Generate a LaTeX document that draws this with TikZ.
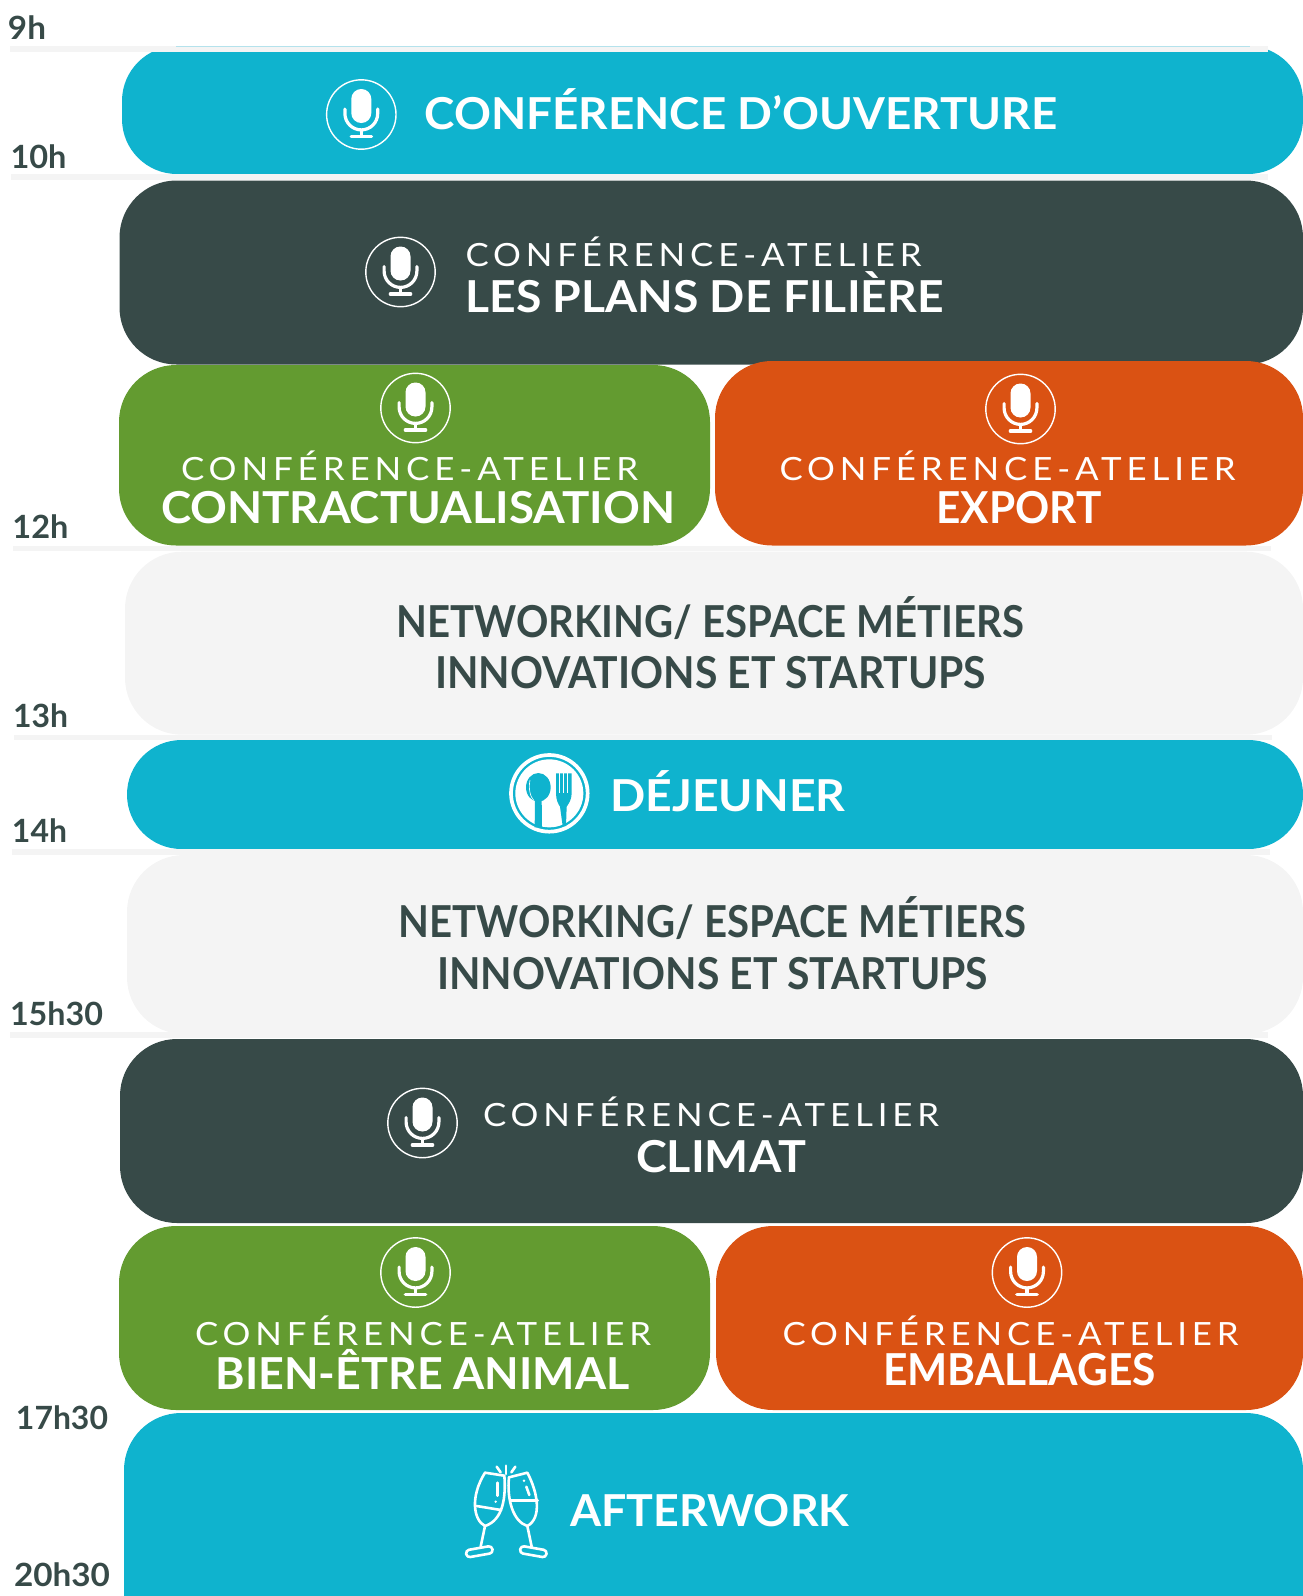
\documentclass[tikz,border=0pt]{standalone}
\usepackage{fontspec}
\usepackage{graphicx}
\setmainfont{Lato}
\newfontfamily\confont[LetterSpace=14]{Lato}
\definecolor{teal1}{HTML}{0FB3CE}
\definecolor{dark1}{HTML}{374A48}
\definecolor{green1}{HTML}{639B30}
\definecolor{orange1}{HTML}{DA5213}
\definecolor{pale1}{HTML}{F4F4F4}
\definecolor{tealedge}{HTML}{B4E2EC}
\newcommand{\fitw}[2]{\resizebox{#1pt}{\height}{#2}}
\newcommand{\tfont}{\fontsize{44}{44}\selectfont\bfseries}
\newcommand{\cfont}{\fontsize{32}{32}\selectfont\confont}
\newcommand{\hfont}{\fontsize{32}{32}\selectfont\bfseries}
\tikzset{
  band/.style={rounded corners=57pt},
  tick/.style={fill=pale1},
  lbl/.style={anchor=base west,inner sep=0pt,outer sep=0pt,text=white},
  hourlbl/.style={anchor=base west,inner sep=0pt,outer sep=0pt,text=dark1},
  netlbl/.style={anchor=base west,inner sep=0pt,outer sep=0pt,text=dark1},
  pics/micicon/.style={code={
    \draw[white,line width=1.4pt] (0,0) circle[radius=34.7];
    \fill[white,rounded corners=9.9pt] (-10,-25.5) rectangle (10,8.5);
    \draw[white,line width=3.2pt,line cap=round] (-16.4,-5.5) -- (-16.4,-1) arc[start angle=180,end angle=0,radius=16.4] -- (16.4,-5.5);
    \draw[white,line width=3.2pt] (0,15.4) -- (0,22);
    \draw[white,line width=3.2pt,line cap=round] (-10.2,22) -- (10.2,22);
  }}
}
\begin{document}
\begin{tikzpicture}[x=1pt,y=-1pt]
\useasboundingbox (0,0) rectangle (1303,1596);
% bands
\fill[teal1,band,rounded corners=55pt] (122,46) rectangle (1303,174);
\fill[dark1,band] (119.5,180.5) rectangle (1303,364.5);
\fill[green1,band] (119,365) rectangle (710,545.5);
\fill[orange1,band] (715,361) rectangle (1303,545.5);
\fill[pale1,band] (125,551.7) rectangle (1303,734.7);
\fill[teal1,band,rounded corners=54.5pt] (127,740) rectangle (1303,849);
\fill[pale1,band] (127,855) rectangle (1303,1034);
\fill[dark1,band] (120,1039) rectangle (1303,1223);
\fill[green1,band] (119,1226) rectangle (710,1410);
\fill[orange1,band] (716,1226) rectangle (1303,1410);
\fill[teal1,band] (124,1413) rectangle (1303,1650);
% hour ticks
\fill[tick] (10,46) rectangle (1268,52);
\fill[tealedge] (176,46) rectangle (1250,46.8);
\fill[tick] (11,174) rectangle (1268,180);
\fill[tick] (13,545.5) rectangle (1271,551);
\fill[tick] (14,735) rectangle (1272,740);
\fill[tick] (12,849) rectangle (1270,855);
\fill[tick] (10,1032) rectangle (1268,1037.5);
% hours
\node[hourlbl] (h9) at (8,39) {\fitw{38}{\hfont 9h}};
\node[hourlbl] (h10) at (10.5,168) {\fitw{56}{\hfont 10h}};
\node[hourlbl] (h12) at (12.5,538) {\fitw{56}{\hfont 12h}};
\node[hourlbl] (h13) at (13,727.5) {\fitw{55}{\hfont 13h}};
\node[hourlbl] (h14) at (12,842.5) {\fitw{55}{\hfont 14h}};
\node[hourlbl] (h15) at (10,1025) {\fitw{93}{\hfont 15h30}};
\node[hourlbl] (h17) at (16,1429.5) {\fitw{92}{\hfont 17h30}};
\node[hourlbl] (h20) at (14,1586.5) {\fitw{96}{\hfont 20h30}};
% mics
\pic at (361.3,114.5) {micicon};
\pic at (400.5,272) {micicon};
\pic at (415.5,408) {micicon};
\pic at (1020.5,409) {micicon};
\pic at (422.5,1123) {micicon};
\pic at (415.5,1272.5) {micicon};
\pic at (1027,1272.5) {micicon};
% labels
\node[lbl] (t1) at (424.5,129) {\fitw{633}{\tfont CONFÉRENCE D’OUVERTURE}};
\node[lbl] (c2) at (465.5,266) {\fitw{456}{\cfont CONFÉRENCE-ATELIER}};
\node[lbl] (t2) at (465.5,312) {\fitw{478}{\tfont LES PLANS DE FILIÈRE}};
\node[lbl] (c3) at (181,480) {\fitw{457}{\cfont CONFÉRENCE-ATELIER}};
\node[lbl] (t3) at (161,523) {\fitw{514}{\tfont CONTRACTUALISATION}};
\node[lbl] (c4) at (779.5,480) {\fitw{456}{\cfont CONFÉRENCE-ATELIER}};
\node[lbl] (t4) at (936.5,523) {\fitw{165}{\tfont EXPORT}};
\node[netlbl] (n1a) at (396.5,637) {\fitw{628}{\tfont NETWORKING/ ESPACE MÉTIERS}};
\node[netlbl] (n1b) at (435,688) {\fitw{551}{\tfont INNOVATIONS ET STARTUPS}};
\node[lbl] (t5) at (610.5,811.5) {\fitw{235}{\tfont DÉJEUNER}};
\node[netlbl] (n2a) at (398.5,937) {\fitw{628}{\tfont NETWORKING/ ESPACE MÉTIERS}};
\node[netlbl] (n2b) at (437,989) {\fitw{551}{\tfont INNOVATIONS ET STARTUPS}};
\node[lbl] (c6) at (483,1126) {\fitw{456}{\cfont CONFÉRENCE-ATELIER}};
\node[lbl] (t6) at (636,1172) {\fitw{170}{\tfont CLIMAT}};
\node[lbl] (c7) at (195,1345) {\fitw{456}{\cfont CONFÉRENCE-ATELIER}};
\node[lbl] (t7) at (215.5,1389.5) {\fitw{414}{\tfont BIEN-ÊTRE ANIMAL}};
\node[lbl] (c8) at (782.5,1345) {\fitw{456}{\cfont CONFÉRENCE-ATELIER}};
\node[lbl] (t8) at (883,1385) {\fitw{273}{\tfont EMBALLAGES}};
\node[lbl] (t9) at (570.5,1526) {\fitw{279}{\tfont AFTERWORK}};
% food icon
\begin{scope}[shift={(480,730)},scale=1/3]
  \draw[white,line width=3.7pt] (208,190) circle[radius=115];
  \fill[white] (208,190) circle[radius=102];
  \fill[teal1] (175,172) ellipse[x radius=37,y radius=43];
  \fill[teal1] (165,205) -- (185,205) -- (186,292) -- (164,292) -- cycle;
  \draw[white,line width=0.6pt] (150,150) .. controls (145,175) and (150,200) .. (162,212);
  \fill[teal1] (228,130) -- (275,130) -- (275,190) .. controls (275,210) and (265,222) .. (260,230) -- (258,288) -- (248,288) -- (240,230) .. controls (235,222) and (228,210) .. (228,190) -- cycle;
  \fill[white] (238,130) rectangle (241,190);
  \fill[white] (250,130) rectangle (253,190);
  \fill[white] (261,130) rectangle (264,190);
\end{scope}
% glasses icon
\begin{scope}[shift={(440,1430)},scale=1/3,white,line width=2.6pt,line cap=round,line join=round]
  \draw (135,128) -- (193,137) .. controls (198,200) and (190,270) .. (135,288) .. controls (100,270) and (90,200) .. cycle;
  \draw (110,228) -- (183,240);
  \draw (135,288) -- (122,350);
  \draw[rounded corners=3.5pt,rotate around={10:(118,365)}] (78,354) rectangle (158,376);
  \draw (172,158) -- (172,197);
  \fill (167,215) circle[radius=4];
  \draw (207,142) -- (262,128) .. controls (295,190) and (305,265) .. (262,288) .. controls (220,275) and (200,210) .. cycle;
  \draw (213,212) -- (293,212);
  \draw (262,288) -- (275,350);
  \draw[rounded corners=3.5pt,rotate around={-10:(280,365)}] (240,354) rectangle (320,376);
  \fill (252,152) circle[radius=4];
  \draw (259,170) -- (268,195);
  \draw (170,110) -- (182,127);
  \draw (198,107) -- (198,132);
  \draw (226,110) -- (214,127);
\end{scope}
\end{tikzpicture}
\end{document}
